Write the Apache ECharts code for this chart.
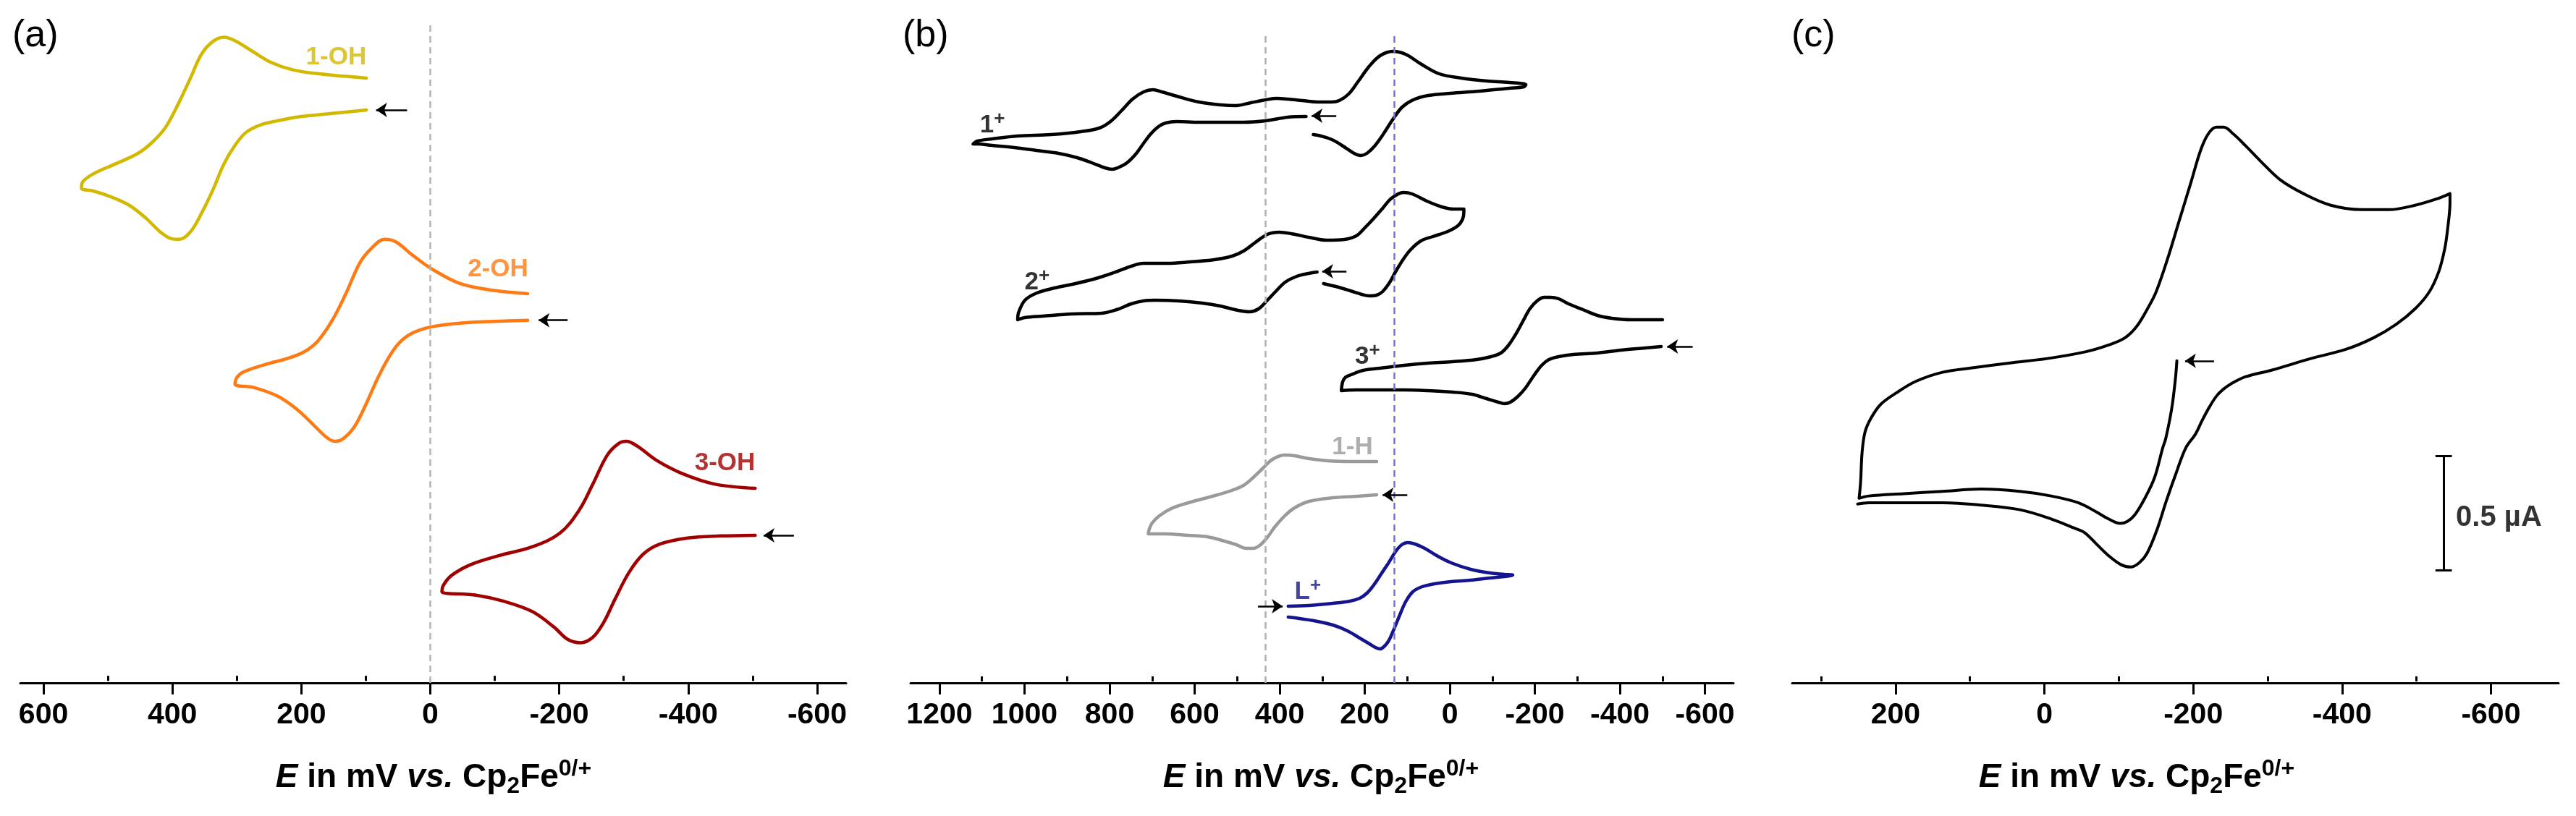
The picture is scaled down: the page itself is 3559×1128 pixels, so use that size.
<!DOCTYPE html>
<html>
<head>
    <meta charset="utf-8" />
    <title>Cyclic voltammograms (a) (b) (c)</title>
    <script src="https://cdn.jsdelivr.net/npm/echarts@6/dist/echarts.min.js"></script>
    <style>
        html, body { margin: 0; padding: 0; background: #ffffff; }
        #main { width: 3559px; height: 1128px; }
    </style>
</head>
<body>
<div id="main"></div>
<script type="text/javascript">
    // ---- panel (a): E in mV, current in arbitrary offset units ----
    var oh1 = [[99,8.39],[152,8.34],[204,8.29],[238,8.23],[264,8.17],[286,8.06],[303,7.87],[320,7.60],[337,7.22],[355,6.87],[372,6.60],[389,6.49],[402,6.50],[419,6.60],[441,6.80],[467,6.99],[497,7.12],[523,7.20],[541,7.24],
        [540,7.32],[523,7.45],[488,7.60],[454,7.75],[432,7.91],[411,8.13],[393,8.44],[372,8.86],[355,9.21],[337,9.40],[320,9.46],[303,9.41],[277,9.26],[247,9.09],[213,8.98],[170,8.92],[99,8.86]];
    var oh2 = [[-151,5.30],[-89,5.28],[-37,5.25],[0,5.20],[28,5.11],[49,4.96],[66,4.73],[83,4.42],[101,4.04],[118,3.73],[135,3.56],[148,3.52],[161,3.58],[182,3.77],[208,4.00],[238,4.19],[273,4.31],[303,4.36],
        [300,4.46],[290,4.54],[256,4.65],[221,4.74],[195,4.84],[174,5.00],[152,5.30],[131,5.69],[109,6.15],[90,6.37],[71,6.49],[53,6.45],[28,6.26],[-3,6.05],[-46,5.84],[-97,5.74],[-151,5.69]];
    var oh3 = [[-504,2.14],[-450,2.13],[-399,2.10],[-356,2.01],[-330,1.86],[-308,1.59],[-287,1.21],[-269,0.86],[-252,0.64],[-233,0.56],[-213,0.61],[-192,0.79],[-158,1.02],[-114,1.17],[-71,1.26],[-18,1.31],
        [-20,1.40],[-33,1.55],[-63,1.71],[-106,1.84],[-158,1.97],[-201,2.17],[-231,2.51],[-252,2.89],[-274,3.31],[-291,3.48],[-304,3.52],[-321,3.45],[-351,3.24],[-390,3.05],[-442,2.89],[-504,2.83]];
    var arrowsA = [[[36,8.39],[84,8.39]], [[-213,5.30],[-168,5.30]], [[-564,2.14],[-517,2.14]]];
    var labelsA = [['1-OH','',193,9.16], ['2-OH','',-58,6.05], ['3-OH','',-410,3.20]];
    var dashA = [0];

    // ---- panel (b) ----
    var cat1 = [[338,7.81],[381,7.80],[433,7.75],[486,7.73],[538,7.73],[590,7.73],[642,7.74],[668,7.72],[685,7.67],[703,7.57],[720,7.44],[737,7.30],[759,7.17],[781,7.10],[794,7.08],[811,7.10],[842,7.17],[876,7.24],[920,7.30],[972,7.34],[1024,7.38],[1076,7.41],[1111,7.43],[1121,7.43],
        [1111,7.47],[1076,7.50],[1016,7.54],[937,7.56],[868,7.60],[824,7.65],[798,7.74],[772,7.89],[746,8.05],[720,8.15],[698,8.18],[677,8.15],[642,8.09],[590,8.01],[538,7.97],[503,7.96],[468,8.00],[433,8.04],[407,8.06],[381,8.05],[347,8.03],[312,8.01],[277,8.01],[260,8.03],[238,8.12],[216,8.29],[190,8.50],[164,8.65],[134,8.71],[104,8.67],[69,8.54],[25,8.40],[-27,8.34],[-88,8.30],[-140,8.28],[-179,8.25],
        [-174,8.22],[-140,8.20],[-70,8.16],[-1,8.13],[51,8.10],[86,8.04],[112,7.94],[134,7.77],[156,7.57],[177,7.40],[195,7.30],[209,7.27],[225,7.30],[251,7.40],[277,7.49],[303,7.54],[321,7.56]];
    var cat2 = [[312,5.66],[332,5.64],[360,5.60],[387,5.52],[408,5.40],[429,5.27],[450,5.15],[471,5.11],[498,5.13],[540,5.19],[582,5.23],[637,5.26],[693,5.27],[721,5.26],[749,5.22],[783,5.14],[818,5.09],[888,5.08],[957,5.05],[999,5.03],[1016,5.00],
        [1014,5.10],[999,5.27],[971,5.37],[929,5.44],[888,5.49],[832,5.57],[790,5.65],[749,5.74],[721,5.78],[665,5.78],[610,5.80],[554,5.83],[512,5.88],[485,5.95],[457,6.07],[429,6.18],[401,6.21],[373,6.19],[332,6.14],[290,6.10],[248,6.11],[220,6.16],[200,6.27],[179,6.40],[158,6.54],[137,6.68],[109,6.76],[89,6.74],[54,6.64],[19,6.56],[-9,6.53],[-33,6.53],
        [-33,6.49],[-30,6.39],[-19,6.30],[5,6.22],[40,6.15],[68,6.09],[92,5.97],[109,5.84],[127,5.67],[141,5.52],[158,5.39],[172,5.34],[189,5.33],[207,5.35],[234,5.40],[262,5.45],[283,5.48],[297,5.50]];
    var cat3 = [[-497,4.63],[-460,4.61],[-403,4.58],[-347,4.54],[-290,4.52],[-256,4.49],[-233,4.45],[-216,4.37],[-199,4.24],[-177,4.05],[-160,3.94],[-142,3.86],[-128,3.84],[-114,3.86],[-86,3.91],[-52,3.97],[-6,4.00],[51,4.02],[107,4.03],[164,4.03],[221,4.03],[255,4.02],
        [252,4.14],[246,4.20],[232,4.24],[204,4.30],[164,4.33],[107,4.37],[51,4.40],[-6,4.42],[-63,4.45],[-97,4.49],[-120,4.54],[-137,4.64],[-154,4.79],[-171,4.97],[-188,5.15],[-205,5.26],[-222,5.31],[-236,5.31],[-256,5.29],[-279,5.22],[-313,5.14],[-347,5.06],[-381,5.02],[-426,5.00],[-500,5.00]];
    var h1 = [[172,2.58],[218,2.56],[275,2.54],[331,2.49],[365,2.40],[388,2.29],[411,2.14],[428,2.00],[445,1.89],[462,1.84],[479,1.84],[502,1.89],[530,1.94],[570,2.00],[615,2.02],[672,2.04],[709,2.04],
        [707,2.10],[700,2.19],[683,2.29],[655,2.39],[615,2.47],[558,2.56],[513,2.64],[485,2.71],[462,2.82],[439,2.95],[417,3.07],[388,3.13],[365,3.12],[331,3.08],[286,3.05],[229,3.04],[172,3.04]];
    var lig = [[380,1.04],[331,1.05],[275,1.08],[235,1.11],[212,1.15],[195,1.22],[178,1.34],[161,1.49],[144,1.64],[127,1.80],[113,1.89],[99,1.92],[82,1.90],[59,1.84],[31,1.74],[-3,1.64],[-49,1.55],[-94,1.50],[-128,1.48],[-148,1.47],
        [-128,1.45],[-94,1.43],[-49,1.40],[-3,1.38],[36,1.35],[65,1.31],[87,1.24],[104,1.10],[119,0.90],[133,0.70],[144,0.56],[155,0.48],[164,0.45],[175,0.47],[189,0.52],[212,0.60],[241,0.70],[275,0.78],[320,0.84],[380,0.89]];
    var arrowsB = [[[267,7.82],[325,7.82]], [[243,5.67],[300,5.67]], [[-571,4.63],[-511,4.63]], [[100,2.58],[158,2.58]], [[451,1.04],[393,1.04]]];
    var labelsB = [['1','+',1105,7.69], ['2','+',1000,5.52], ['3','+',223,4.49], ['1-H','',277,3.24], ['L','+',365,1.24]];
    var dashB = [433, 131];

    // ---- panel (c): current in µA ----
    var cvC = [[-178,1.40],[-176,1.32],[-171,1.19],[-163,1.06],[-159,1.02],[-148,0.89],[-135,0.80],[-122,0.73],[-112,0.70],[-102,0.69],[-86,0.71],[-70,0.74],[-46,0.78],[-9,0.81],[33,0.83],[85,0.84],[137,0.83],[189,0.82],[236,0.81],[249,0.80],
        [247,0.87],[245,1.00],[241,1.09],[233,1.15],[220,1.21],[199,1.26],[173,1.31],[137,1.35],[95,1.37],[48,1.39],[-4,1.41],[-56,1.44],[-87,1.47],[-108,1.50],[-124,1.55],[-139,1.63],[-150,1.70],[-165,1.84],[-181,2.01],[-197,2.18],[-210,2.32],[-220,2.39],[-231,2.42],[-241,2.42],[-254,2.39],[-270,2.34],[-291,2.27],[-317,2.19],[-348,2.13],[-384,2.08],[-426,2.06],[-463,2.06],[-499,2.08],[-530,2.11],[-545,2.13],
        [-545,2.09],[-542,1.98],[-538,1.89],[-530,1.79],[-517,1.70],[-499,1.63],[-473,1.56],[-442,1.50],[-405,1.45],[-358,1.41],[-306,1.36],[-270,1.33],[-251,1.30],[-240,1.275],[-231,1.245],[-222,1.20],[-212,1.14],[-203,1.08],[-190,1.02],[-177,0.91],[-164,0.79],[-151,0.66],[-138,0.56],[-128,0.52],[-116,0.50],[-103,0.51],[-86,0.55],[-70,0.60],[-54,0.65],[-40,0.67],[-9,0.71],[33,0.75],[85,0.77],[137,0.78],[189,0.78],[236,0.78],[251,0.775]];
    var arrowsC = [[[-228,1.40],[-189,1.40]]];
    var scaleBarC = [-536.5, 0.485, 0.985];   // E position, current from, current to (0.5 µA)
    var labelsC = [['0.5 µA','',-553,0.714]];

    // ---- axis ticks (mV) ----
    var majorA = [600,400,200,0,-200,-400,-600];
    var minorA = [500,300,100,-100,-300,-500];
    var majorB = [1200,1000,800,600,400,200,0,-200,-400,-600];
    var minorB = [1100,900,700,500,300,100,-100,-300,-500];
    var majorC = [200,0,-200,-400,-600];
    var minorC = [300,100,-100,-300,-500];

    var FONT = "'Liberation Sans', Arial, Helvetica, sans-serif";
    var colors = {
        '1-OH': '#D3B800', '2-OH': '#FF7A12', '3-OH': '#A00000',
        '1-H': '#9A9A9A', 'L': '#14148F', 'black': '#000000'
    };

    var myChart = echarts.init(document.getElementById('main'), null, {renderer: 'canvas'});

    // 坐标轴
    function mainAxis(g, min, max, major) {
        return {
            gridIndex: g, type: 'value', inverse: true, min: min, max: max,
            axisLine: {show: true, onZero: false, lineStyle: {color: '#000', width: 3}},
            axisTick: {show: true, customValues: major, length: 16, lineStyle: {color: '#000', width: 3}},
            axisLabel: {show: true, customValues: major, fontSize: 41, fontWeight: 'bold', color: '#000',
                fontFamily: FONT, margin: 24,
                formatter: function (v) { return String(v); }},
            splitLine: {show: false}
        };
    }
    function minorAxis(g, min, max, minor) {
        return {
            gridIndex: g, type: 'value', inverse: true, min: min, max: max,
            axisLine: {show: false},
            axisTick: {show: true, customValues: minor, length: 7, lineStyle: {color: '#000', width: 3}},
            axisLabel: {show: false},
            splitLine: {show: false}
        };
    }

    function cvLine(name, data, g, color, width, arrows) {
        var s = {
            name: name, type: 'line', xAxisIndex: g, yAxisIndex: g,
            data: data, showSymbol: false, smooth: 0.35, silent: true,
            lineStyle: {color: color, width: width, cap: 'round', join: 'round'}, z: 3
        };
        if (arrows) {
            s.markLine = {
                silent: true, symbol: ['none', 'arrow'], symbolSize: 15,
                label: {show: false},
                lineStyle: {color: '#000', width: 2.5, type: 'solid'},
                data: arrows.map(function (a) { return [{coord: a[0]}, {coord: a[1]}]; })
            };
        }
        return s;
    }

    var richLabel = {
        b: {fontSize: 35, fontWeight: 'bold', fontFamily: FONT, lineHeight: 42},
        s: {fontSize: 26, fontWeight: 'bold', fontFamily: FONT, lineHeight: 26, verticalAlign: 'top'},
        m: {fontSize: 40, fontWeight: 'bold', fontFamily: FONT, lineHeight: 44}
    };

    function labelSeries(g, labels, markData, markStyle) {
        var s = {
            type: 'scatter', xAxisIndex: g, yAxisIndex: g, symbolSize: 1, silent: true, z: 5,
            itemStyle: {color: 'rgba(0,0,0,0)'},
            data: labels.map(function (l) {
                var key = colors[l[0]] ? l[0] : 'black';
                return {value: [l[2], l[3]], name: l[0], label: {color: colors[key]}};
            }),
            label: {
                show: true, position: 'inside', align: 'left', verticalAlign: 'middle',
                rich: richLabel,
                formatter: function (p) {
                    var sup = labels[p.dataIndex][1];
                    var tag = p.name.indexOf('µA') >= 0 ? 'm' : 'b';
                    return '{' + tag + '|' + p.name + '}' + (sup ? '{s|' + sup + '}' : '');
                }
            }
        };
        if (markData) {
            s.markLine = {
                silent: true, symbol: ['none', 'none'], label: {show: false},
                lineStyle: markStyle, data: markData
            };
        }
        return s;
    }

    var yTopA = 9.72, yTopB = 9.15, yTopC = 2.89;
    var dashItemsA = dashA.map(function (e) {
        return [{coord: [e, -0.03], lineStyle: {color: '#B4B4B4', width: 2.5, type: [9, 6]}}, {coord: [e, 9.70]}];
    });
    var dashColB = ['#B0B0B0', '#7474D6'];
    var dashItemsB = dashB.map(function (e, i) {
        return [{coord: [e, -0.02], lineStyle: {color: dashColB[i], width: 2.5, type: [9, 6]}}, {coord: [e, 8.93]}];
    });
    var cap = 11;
    var barItemsC = [
        [{coord: [scaleBarC[0], scaleBarC[1]]}, {coord: [scaleBarC[0], scaleBarC[2]]}],
        [{coord: [scaleBarC[0] + cap, scaleBarC[1]]}, {coord: [scaleBarC[0] - cap, scaleBarC[1]]}],
        [{coord: [scaleBarC[0] + cap, scaleBarC[2]]}, {coord: [scaleBarC[0] - cap, scaleBarC[2]]}]
    ];

    var titleRich = {
        i: {fontSize: 46, fontWeight: 'bold', fontStyle: 'italic', fontFamily: FONT, lineHeight: 56},
        b: {fontSize: 46, fontWeight: 'bold', fontFamily: FONT, lineHeight: 56},
        sub: {fontSize: 32, fontWeight: 'bold', fontFamily: FONT, lineHeight: 30, verticalAlign: 'bottom'},
        sup: {fontSize: 32, fontWeight: 'bold', fontFamily: FONT, lineHeight: 34, verticalAlign: 'top'}
    };
    var titleText = '{i|E}{b| in mV }{i|vs.}{b| Cp}{sub|2}{b|Fe}{sup|0/+}';
    function axisTitle(x) {
        return {type: 'text', x: x, y: 1075, silent: true,
            style: {text: titleText, rich: titleRich, align: 'center', verticalAlign: 'middle', fill: '#000'}};
    }
    function panelTag(x, t) {
        return {type: 'text', x: x, y: 24, silent: true,
            style: {text: t, fontSize: 52, fontFamily: FONT, fill: '#000', align: 'left', verticalAlign: 'top'}};
    }

    var option = {
        animation: false,
        backgroundColor: '#ffffff',
        grid: [
            {left: 28, width: 1141, top: 27, height: 917},
            {left: 1258, width: 1137, top: 27, height: 917},
            {left: 2476, width: 1059, top: 27, height: 917}
        ],
        xAxis: [
            mainAxis(0, -645, 636, majorA),
            mainAxis(1, -667, 1268, majorB),
            mainAxis(2, -691, 339, majorC),
            minorAxis(0, -645, 636, minorA),
            minorAxis(1, -667, 1268, minorB),
            minorAxis(2, -691, 339, minorC)
        ],
        yAxis: [
            {gridIndex: 0, type: 'value', min: -0.03, max: yTopA, show: false},
            {gridIndex: 1, type: 'value', min: -0.02, max: yTopB, show: false},
            {gridIndex: 2, type: 'value', min: -0.006, max: yTopC, show: false}
        ],
        series: [
            labelSeries(0, labelsA, dashItemsA, {}),
            cvLine('1-OH', oh1, 0, colors['1-OH'], 4.5, [arrowsA[0]]),
            cvLine('2-OH', oh2, 0, colors['2-OH'], 4.5, [arrowsA[1]]),
            cvLine('3-OH', oh3, 0, colors['3-OH'], 4.5, [arrowsA[2]]),

            labelSeries(1, labelsB, dashItemsB, {}),
            cvLine('1+', cat1, 1, '#000', 4.5, [arrowsB[0]]),
            cvLine('2+', cat2, 1, '#000', 4.5, [arrowsB[1]]),
            cvLine('3+', cat3, 1, '#000', 4.5, [arrowsB[2]]),
            cvLine('1-H', h1, 1, colors['1-H'], 4.5, [arrowsB[3]]),
            cvLine('L+', lig, 1, colors['L'], 4.5, [arrowsB[4]]),

            labelSeries(2, labelsC, barItemsC, {color: '#000', width: 3, type: 'solid'}),
            cvLine('c', cvC, 2, '#000', 4, arrowsC)
        ],
        graphic: [
            panelTag(17, '(a)'), panelTag(1247, '(b)'), panelTag(2475, '(c)'),
            axisTitle(599), axisTitle(1825), axisTitle(2952)
        ]
    };
    myChart.setOption(option);
</script>
</body>
</html>
